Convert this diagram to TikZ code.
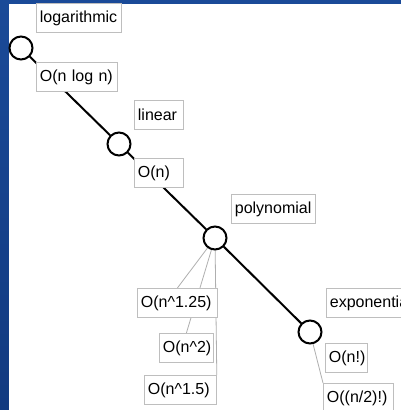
\documentclass[tikz,border=0pt]{standalone}
\usepackage{fontspec}
\setmainfont{Liberation Sans}
\pgfdeclarelayer{bg}
\pgfdeclarelayer{edges}
\pgfsetlayers{bg,edges,main}
\definecolor{slideblue}{RGB}{26,74,152}
\definecolor{slidedeep}{RGB}{18,58,128}
\definecolor{boxgray}{RGB}{190,190,190}
\definecolor{leadgray}{RGB}{175,175,175}
\begin{document}
\begin{tikzpicture}[x=1pt,y=-1pt,
  labelbox/.style={draw=boxgray, line width=0.8pt, fill=white, anchor=north west,
    inner xsep=3.5pt, inner ysep=0pt, minimum height=29pt, align=left,
    font=\fontsize{16}{19}\selectfont},
  classnode/.style={circle, draw=black, line width=2pt, fill=white,
    minimum size=23pt, inner sep=0pt},
  spine/.style={draw=black, line width=2pt},
  lead/.style={draw=leadgray, line width=0.8pt}]

\useasboundingbox (0,0) rectangle (401,410);
\clip (0,0) rectangle (401,410);

% slide background and white canvas
\begin{pgfonlayer}{bg}
  \shade[top color=slideblue, bottom color=slidedeep] (0,0) rectangle (401,410);
  \fill[white] (9,4) rectangle (401,410);
\end{pgfonlayer}

% complexity classes along the spine
\node[classnode] (cLog)  at (21,48)  {};
\node[classnode] (cLin)  at (119,144) {};
\node[classnode] (cPoly) at (215,238) {};
\node[classnode] (cExp)  at (310,332) {};

% class names
\node[labelbox, text width=78pt] (tLog)  at (36,3)    {logarithmic};
\node[labelbox, text width=42pt] (tLin)  at (134,100) {linear};
\node[labelbox, text width=77pt] (tPoly) at (231,194) {polynomial};
\node[labelbox, text width=100pt] (tExp) at (326,288) {exponential};

% example orders
\node[labelbox, text width=74pt] (oNlogN) at (36,62)   {O(n log n)};
\node[labelbox, text width=42pt] (oN)     at (134,158) {O(n)};
\node[labelbox, text width=73pt] (oN125)  at (137,288) {O(n\textasciicircum 1.25)};
\node[labelbox, text width=47pt] (oN2)    at (159,333) {O(n\textasciicircum 2)};
\node[labelbox, text width=65pt] (oN15)   at (144,375) {O(n\textasciicircum 1.5)};
\node[labelbox, text width=35pt] (oFact)  at (325,343) {O(n!)};
\node[labelbox, text width=63pt] (oHalf)  at (323,383) {O((n/2)!)};

% connectors behind the boxes
\begin{pgfonlayer}{edges}
  \draw[spine] (cLog) -- (cLin);
  \draw[spine] (cLin) -- (cPoly);
  \draw[spine] (cPoly) -- (cExp);
  \draw[lead] (cPoly) -- (oN125.north);
  \draw[lead] (cPoly) -- (oN2.north);
  \draw[lead] (cPoly) -- (oN15.north east);
  \draw[lead] (cExp) -- (oHalf.north west);
\end{pgfonlayer}
\end{tikzpicture}
\end{document}
